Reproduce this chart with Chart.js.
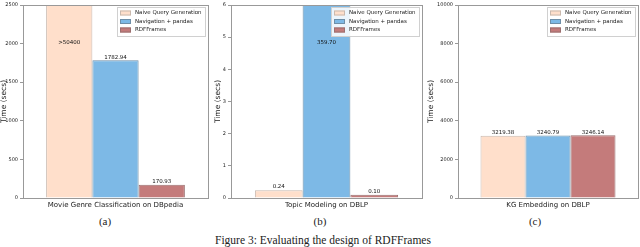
<!DOCTYPE html>
<html>
<head>
<meta charset="utf-8">
<script src="https://cdn.jsdelivr.net/npm/chart.js@4/dist/chart.umd.min.js"></script>
<style>
  html, body { margin: 0; padding: 0; background: #fff; }
  body { width: 640px; height: 247px; position: relative; overflow: hidden; }
  .panel { position: absolute; top: 0; }
  .sub { position: absolute; top: 215px; font: 11px "Liberation Serif", "DejaVu Serif", serif; color: #222; transform: translateX(-50%); }
  .fig { position: absolute; top: 234px; left: 215px; font: 11.5px "Liberation Serif", "DejaVu Serif", serif; color: #222; white-space: nowrap; }
</style>
</head>
<body>
<div class="panel" id="pa"><canvas id="c0" width="212" height="214"></canvas></div>
<div class="panel" id="pb"><canvas id="c1" width="212" height="214"></canvas></div>
<div class="panel" id="pc"><canvas id="c2" width="213" height="214"></canvas></div>
<div class="sub" style="left:105px">(a)</div>
<div class="sub" style="left:320px">(b)</div>
<div class="sub" style="left:535px">(c)</div>
<div class="fig">Figure 3: Evaluating the design of RDFFrames</div>
<script>
// Datos de las tres tareas
const categories = ["Movie Genre Classification on DBpedia", "Topic Modeling on DBLP", "KG Embedding on DBLP"];
const seriesNames = ["Naive Query Generation", "Navigation + pandas", "RDFFrames"];
const naiveQuery = [50400, 0.24, 3219.38];
const navPandas = [1782.94, 359.70, 3240.79];
const rdfFrames = [170.93, 0.10, 3246.14];
const naiveLabels = [">50400", "0.24", "3219.38"];
const navLabels = ["1782.94", "359.70", "3240.79"];
const rdfLabels = ["170.93", "0.10", "3246.14"];
const yMax = [2500, 6, 10000];
const yStep = [500, 1, 2000];

const series = [naiveQuery, navPandas, rdfFrames];
const seriesLabels = [naiveLabels, navLabels, rdfLabels];
const fills = ["#ffdfcb", "#7db9e6", "#c47b7b"];
const edges = ["#c9b9ae", "#6e8fa8", "#9a7070"];

// posición de cada panel (left del canvas, ancho del eje y, padding derecho)
const layout = [
  { left: 0, axisW: 23, padR: 4 },
  { left: 214, axisW: 17, padR: 4 },
  { left: 427, axisW: 31, padR: 2 },
];

const FONT = "'DejaVu Sans', sans-serif";

// marco gris alrededor del área del gráfico
const framePlugin = {
  id: "frame",
  afterDraw(chart) {
    const { ctx, chartArea: a } = chart;
    ctx.save();
    ctx.strokeStyle = "#999";
    ctx.lineWidth = 1;
    ctx.strokeRect(Math.round(a.left) + 0.5, Math.round(a.top) + 0.5, Math.round(a.right - a.left), Math.round(a.bottom - a.top));
    ctx.restore();
  },
};

// etiquetas de valor sobre las barras
const valuePlugin = {
  id: "values",
  afterDatasetsDraw(chart) {
    const { ctx, chartArea: a } = chart;
    ctx.save();
    ctx.font = "5.5px " + FONT;
    ctx.fillStyle = "#111";
    ctx.textAlign = "center";
    chart.data.datasets.forEach((ds, k) => {
      const bar = chart.getDatasetMeta(k).data[0];
      const clipped = bar.y < a.top;
      ctx.textBaseline = clipped ? "middle" : "bottom";
      const y = clipped ? a.top + 38 : bar.y - 0.5;
      ctx.fillText(ds.valueLabel, bar.x, y);
    });
    ctx.restore();
  },
};

// leyenda dentro del área, arriba a la derecha
const legendPlugin = {
  id: "innerLegend",
  afterDraw(chart) {
    const { ctx, chartArea: a } = chart;
    ctx.save();
    ctx.font = "5.5px " + FONT;
    const names = chart.data.datasets.map((d) => d.label);
    const textW = Math.max(...names.map((n) => ctx.measureText(n).width));
    const w = Math.round(textW + 21), h = 29;
    const x = Math.round(a.right - 3 - w), y = Math.round(a.top + 2);
    ctx.fillStyle = "rgba(255,255,255,0.85)";
    ctx.fillRect(x, y, w, h);
    ctx.strokeStyle = "#d0d0d0";
    ctx.lineWidth = 1;
    ctx.strokeRect(x + 0.5, y + 0.5, w, h);
    chart.data.datasets.forEach((ds, k) => {
      const cy = y + 6 + k * 8.5;
      ctx.fillStyle = ds.backgroundColor;
      ctx.fillRect(x + 3, cy - 2.5, 11, 5);
      ctx.strokeStyle = ds.borderColor;
      ctx.strokeRect(x + 3.5, cy - 2, 10, 4);
      ctx.fillStyle = "#222";
      ctx.textBaseline = "middle";
      ctx.textAlign = "left";
      ctx.fillText(ds.label, x + 18, cy);
    });
    ctx.restore();
  },
};

categories.forEach((cat, i) => {
  const L = layout[i];
  document.getElementById(["pa", "pb", "pc"][i]).style.left = L.left + "px";
  const ctx = document.getElementById("c" + i).getContext("2d");
  new Chart(ctx, {
    type: "bar",
    data: {
      labels: [cat],
      datasets: seriesNames.map((name, k) => ({
        label: name,
        data: [series[k][i]],
        valueLabel: seriesLabels[k][i],
        backgroundColor: fills[k],
        borderColor: edges[k],
        borderWidth: 1,
        borderSkipped: "start",
      })),
    },
    options: {
      responsive: false,
      animation: false,
      layout: { padding: { top: -3, right: L.padR, left: 0, bottom: 0 } },
      datasets: { bar: { categoryPercentage: 0.75, barPercentage: 1 } },
      plugins: { legend: { display: false }, tooltip: { enabled: false } },
      scales: {
        x: {
          grid: { display: false, drawTicks: false },
          border: { display: false },
          ticks: { font: { family: FONT, size: 7 }, color: "#222", padding: 3 },
          afterFit(s) { s.height = 16; },
        },
        y: {
          min: 0,
          max: yMax[i],
          ticks: { stepSize: yStep[i], font: { family: FONT, size: 5 }, color: "#222", padding: 2, callback: (v) => String(v) },
          grid: { drawOnChartArea: false, tickLength: 3, color: "#999" },
          border: { color: "#999" },
          title: { display: true, text: "Time (secs)", font: { family: FONT, size: 7.5 }, color: "#222", padding: { top: 0, bottom: 0 } },
          afterFit(s) { s.width = L.axisW; },
        },
      },
    },
    plugins: [framePlugin, valuePlugin, legendPlugin],
  });
});
</script>
</body>
</html>
